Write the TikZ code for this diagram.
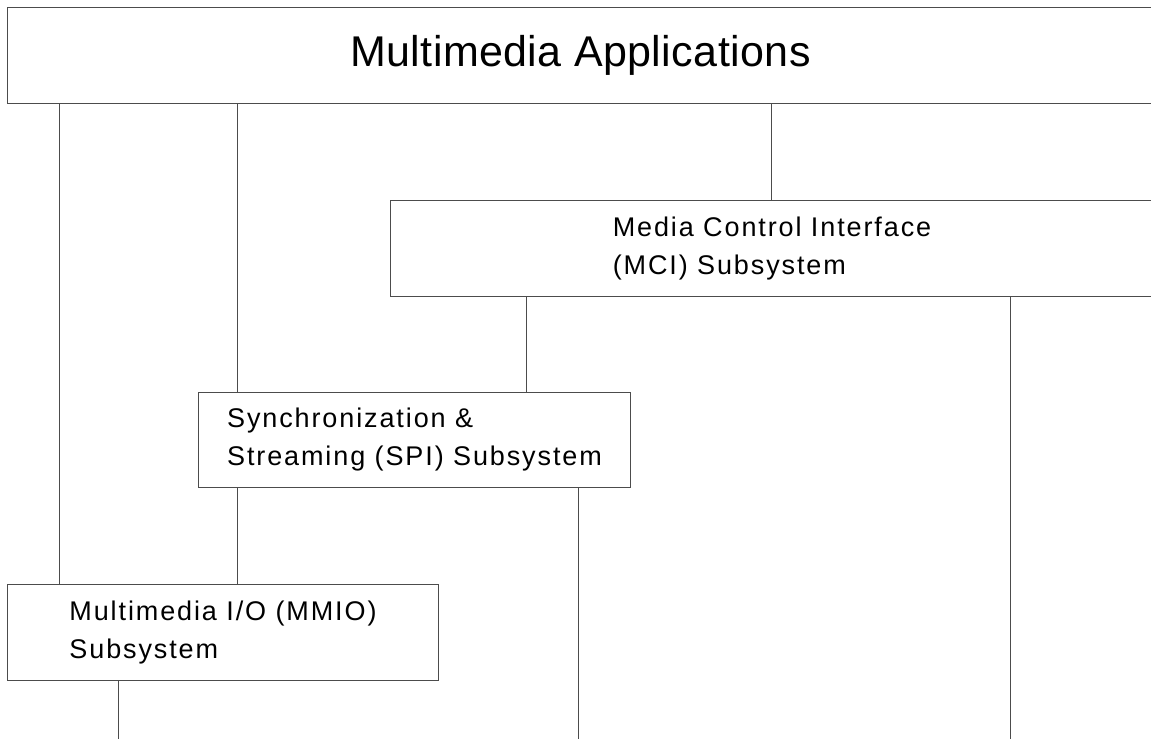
\documentclass[tikz,border=0pt]{standalone}
\usepackage{fontspec}
\setmainfont[LetterSpace=1]{Liberation Sans}
\newfontfamily\boxfont[LetterSpace=7]{Liberation Sans}
\usetikzlibrary{positioning}

\begin{document}
\begin{tikzpicture}[x=0.5pt,y=-0.5pt,line width=0.5pt,
  box/.style={draw=black!70,anchor=north west,align=left,inner sep=0pt,
    minimum height=48pt,font=\boxfont\fontsize{13.5}{19}\selectfont},
  link/.style={draw=black!70}]
\useasboundingbox (0,0) rectangle (1151,739);
% boxes, widths run past the right edge
\node[box,minimum width=573pt,font=\rmfamily\fontsize{21.5}{24}\selectfont] (apps) at (7,7) {Multimedia Applications};
\node[box,minimum width=381.5pt] (mci) at (390,200) {Media Control Interface\\(MCI) Subsystem};
\node[box,minimum width=216pt,minimum height=47.5pt] (spi) at (198,392) {Synchronization \&\\Streaming (SPI) Subsystem};
\node[box,minimum width=215.5pt] (mmio) at (7,584) {Multimedia I/O (MMIO)\\Subsystem};
\coordinate (floor) at (0,739);
% links between layers
\foreach \x/\a/\b in {59/apps/mmio,237/apps/spi,771/apps/mci,526/mci/spi,237/spi/mmio}{
  \draw[link] (\x,0 |- \a.south) -- (\x,0 |- \b.north);
}
\foreach \x/\a in {1010/mci,578/spi,118/mmio}{
  \draw[link] (\x,0 |- \a.south) -- (\x,0 |- floor);
}
\end{tikzpicture}
\end{document}
